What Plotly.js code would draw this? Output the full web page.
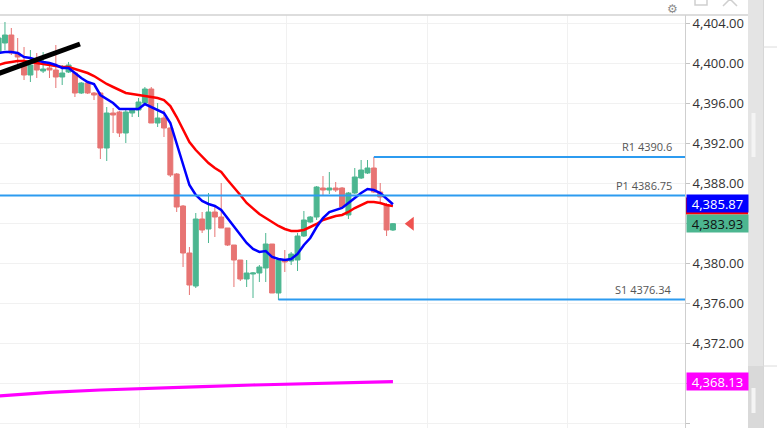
<!DOCTYPE html>
<html><head><meta charset="utf-8">
<script src="https://cdn.plot.ly/plotly-3.0.1.min.js"></script>
<style>html,body{margin:0;padding:0;background:#fff;overflow:hidden}#chart{width:777px;height:428px}</style>
</head><body><div id="chart"></div>
<script>
// ---- data ----
const openP  = [4401.0,4402.0,4402.8,4401.0,4399.8,4398.8,4400.3,4399.2,4399.5,4399.3,4398.6,4399.1,4399.0,4397.0,4398.0,4397.0,4397.0,4391.5,4395.0,4395.1,4393.0,4395.0,4395.3,4396.0,4397.4,4394.0,4394.5,4393.5,4388.9,4385.7,4381.0,4377.7,4384.4,4383.4,4385.1,4384.6,4383.5,4381.8,4380.3,4378.4,4378.9,4379.0,4379.5,4381.9,4377.0,4380.3,4380.2,4380.3,4382.7,4384.1,4384.6,4387.5,4387.3,4387.5,4387.5,4384.8,4387.0,4388.5,4389.0,4389.5,4387.1,4385.8,4383.3];
const highP  = [4403.0,4404.1,4403.5,4402.5,4401.6,4401.3,4401.0,4401.1,4399.7,4401.8,4399.8,4400.1,4399.1,4398.1,4398.1,4397.1,4397.1,4395.6,4395.5,4395.2,4395.3,4395.5,4396.5,4397.6,4397.6,4396.0,4395.3,4393.6,4389.0,4385.8,4381.6,4385.0,4385.1,4387.0,4385.6,4388.0,4383.5,4381.8,4380.3,4380.3,4379.1,4379.8,4383.0,4381.9,4380.3,4381.3,4381.1,4383.0,4385.2,4384.7,4387.7,4388.7,4389.1,4388.1,4387.6,4387.1,4389.5,4390.3,4390.3,4390.6,4388.0,4386.0,4384.0];
const lowP   = [4400.5,4401.3,4400.8,4399.8,4398.3,4398.1,4398.5,4399.0,4398.5,4397.5,4397.8,4399.0,4396.6,4396.9,4396.9,4396.3,4390.4,4390.2,4393.0,4392.6,4392.0,4394.6,4394.6,4395.8,4394.0,4393.6,4392.6,4388.6,4385.1,4379.6,4376.8,4377.5,4383.0,4382.0,4382.6,4383.5,4381.7,4377.6,4378.2,4377.6,4376.5,4378.1,4378.1,4377.0,4376.3,4379.1,4379.8,4379.2,4382.6,4384.0,4384.3,4386.8,4386.9,4387.1,4385.5,4384.4,4386.9,4388.4,4388.9,4387.0,4386.1,4382.7,4383.2];
const closeP = [4402.5,4402.8,4401.0,4400.6,4398.8,4399.8,4399.3,4399.4,4399.3,4398.6,4399.0,4399.8,4397.0,4398.0,4397.0,4396.8,4391.5,4395.0,4394.8,4393.0,4395.1,4395.3,4396.1,4397.4,4394.0,4394.5,4393.5,4388.8,4385.6,4381.0,4377.8,4384.4,4383.3,4385.1,4384.6,4383.5,4381.8,4380.3,4378.4,4379.0,4379.0,4379.6,4381.9,4377.0,4380.3,4380.1,4380.9,4382.7,4384.3,4384.6,4387.6,4387.3,4387.5,4387.3,4385.6,4387.0,4388.6,4389.3,4389.5,4387.1,4386.6,4383.3,4383.93];
const maBlue = [4401.0,4401.1,4401.1,4401.0,4400.6,4400.5,4400.3,4400.1,4400.0,4399.8,4399.5,4399.5,4399.0,4398.5,4398.1,4397.9,4396.8,4396.4,4396.0,4395.4,4395.4,4395.4,4395.4,4395.9,4395.6,4395.3,4395.0,4394.0,4392.0,4390.0,4387.8,4386.8,4386.2,4385.9,4385.7,4385.3,4384.5,4383.7,4382.9,4382.0,4381.4,4381.1,4381.2,4380.6,4380.4,4380.3,4380.4,4380.9,4381.8,4382.5,4383.6,4384.5,4385.1,4385.3,4385.5,4386.0,4386.5,4387.0,4387.4,4387.3,4387.0,4386.4,4385.87];
const maRed  = [4399.8,4400.0,4400.1,4400.2,4400.2,4400.1,4400.0,4399.9,4399.8,4399.7,4399.6,4399.6,4399.4,4399.2,4399.0,4398.7,4398.3,4397.9,4397.6,4397.3,4397.0,4396.9,4396.8,4396.7,4396.6,4396.5,4396.3,4395.7,4394.6,4393.3,4392.1,4391.3,4390.6,4390.0,4389.5,4389.1,4388.3,4387.6,4386.8,4386.0,4385.4,4384.9,4384.5,4384.1,4383.7,4383.4,4383.2,4383.2,4383.3,4383.6,4383.9,4384.3,4384.5,4384.7,4384.8,4385.1,4385.5,4385.8,4386.1,4386.1,4386.0,4385.8,4385.7];
const longMaIdx = [0,8,16,22,32,40,45,52,62];
const longMaVal = [4366.7,4367.07,4367.3,4367.4,4367.63,4367.8,4367.87,4367.97,4368.13];
const trendIdx = [0,12.8];
const trendVal = [4398.95,4401.9];
const pivotNames  = ['R1','P1','S1'];
const pivotValues = [4390.6,4386.75,4376.34];
const pivotStart  = [59,-5,44];
const yTicks = [4364,4368,4372,4376,4380,4384,4388,4392,4396,4400,4404];

// ---- chart ----
const idx = closeP.map((_, i) => i);
const last = closeP.length - 1;
const fmt = v => v.toLocaleString('en-US',{minimumFractionDigits:2,maximumFractionDigits:2});
const W = 685, H = 413, T = 15;
const px = p => p / W;              // x pixel -> paper
const py = p => (T + H - p) / H;    // y pixel -> paper

const traces = [
  {type:'candlestick', x:idx, open:openP, high:highP, low:lowP, close:closeP,
   increasing:{line:{color:'#4cb690',width:1},fillcolor:'#4cb690'},
   decreasing:{line:{color:'#e77473',width:1},fillcolor:'#e77473'},
   whiskerwidth:0, hoverinfo:'skip', showlegend:false},
  {type:'scatter',mode:'lines',x:longMaIdx,y:longMaVal,line:{color:'#ff00ff',width:3.2},hoverinfo:'skip',showlegend:false},
  {type:'scatter',mode:'lines',x:idx,y:maRed,line:{color:'#ff0000',width:2.5},hoverinfo:'skip',showlegend:false},
  {type:'scatter',mode:'lines',x:idx,y:maBlue,line:{color:'#0000ff',width:2.5},hoverinfo:'skip',showlegend:false},
  {type:'scatter',mode:'lines',x:trendIdx,y:trendVal,line:{color:'#000000',width:5},hoverinfo:'skip',showlegend:false},
  {type:'scatter',mode:'markers',x:[last+2.8],y:[closeP[last]],marker:{symbol:'triangle-left',size:12,color:'#ef5350'},hoverinfo:'skip',showlegend:false}
];

const shapes = [];
pivotValues.forEach((v,k)=>{
  shapes.push({type:'line',xref:'x',yref:'y',x0:pivotStart[k],x1:300,y0:v,y1:v,line:{color:'#2c9bf0',width:2},layer:'above'});
});
// red MA price tag, almost fully hidden behind the blue one
shapes.push({type:'rect',xref:'paper',yref:'y',x0:px(686),x1:px(748),y0:maRed[last]-0.85,y1:maRed[last]+0.85,fillcolor:'#ff0000',line:{width:0},layer:'above'});
// frame / toolbar / side panel decorations
shapes.push({type:'line',xref:'paper',yref:'paper',x0:px(0),x1:px(748),y0:1,y1:1,line:{color:'#d2d2d2',width:1.5}});
shapes.push({type:'rect',xref:'paper',yref:'paper',x0:px(748),x1:px(763),y0:0,y1:py(0),fillcolor:'#e4e4e4',line:{width:0}});
shapes.push({type:'rect',xref:'paper',yref:'paper',x0:px(751.5),x1:px(755.5),y0:py(157),y1:py(113),fillcolor:'#f4f4f4',line:{width:0}});
shapes.push({type:'rect',xref:'paper',yref:'paper',x0:px(748),x1:px(763),y0:0,y1:py(366),fillcolor:'#d9d9d9',line:{width:0}});
shapes.push({type:'rect',xref:'paper',yref:'paper',x0:px(751.5),x1:px(755.5),y0:py(413),y1:py(388),fillcolor:'#f4f4f4',line:{width:0}});
shapes.push({type:'line',xref:'paper',yref:'paper',x0:px(763.5),x1:px(763.5),y0:0,y1:py(0),line:{color:'#d6d6d6',width:1}});
shapes.push({type:'line',xref:'paper',yref:'paper',x0:px(763),x1:px(777),y0:py(47),y1:py(47),line:{color:'#dcdcdc',width:1}});
shapes.push({type:'line',xref:'paper',yref:'paper',x0:px(763),x1:px(777),y0:py(366),y1:py(366),line:{color:'#dcdcdc',width:1}});
shapes.push({type:'rect',xref:'paper',yref:'paper',x0:px(695),x1:px(707),y0:py(5),y1:py(-4),line:{color:'#cfcfcf',width:1.5}});
shapes.push({type:'path',xref:'paper',yref:'paper',path:`M ${px(723)},${py(6)} L ${px(730)},${py(-1)} L ${px(737)},${py(6)}`,line:{color:'#cfcfcf',width:1.5}});

const annotations = [];
pivotValues.forEach((v,k)=>{
  annotations.push({xref:'paper',yref:'y',x:px(674),y:v,xanchor:'right',yanchor:'bottom',yshift:1,showarrow:false,
    text:pivotNames[k]+' '+String(v),font:{family:'Open Sans',size:11,color:'#555'}});
});
function priceTag(v,bg,fc){
  return {xref:'paper',yref:'y',x:1,y:v,xanchor:'left',yanchor:'middle',xshift:1,showarrow:false,
    text:fmt(v),bgcolor:bg,width:60,height:16,borderpad:0.5,align:'center',
    font:{family:'Open Sans',size:13,color:fc}};
}
annotations.push(Object.assign(priceTag(maBlue[last],'#0000ff','#ffffff'),{yshift:1}));
annotations.push(priceTag(closeP[last],'#4cb690','#111111'));
annotations.push(priceTag(longMaVal[longMaVal.length-1],'#ff00ff','#ffffff'));
annotations.push({xref:'paper',yref:'paper',x:px(672),y:py(0),xanchor:'center',yanchor:'top',showarrow:false,
  text:'⚙',font:{family:'DejaVu Sans',size:12,color:'#8c8c8c'}});

const layout = {
  width:777,height:428,margin:{l:0,r:92,t:15,b:0,pad:0},
  paper_bgcolor:'#ffffff',plot_bgcolor:'#ffffff',
  boxgap:0,boxgroupgap:0.22,
  xaxis:{range:[0.22,107.92],showticklabels:false,ticks:'',tickvals:[22.1,45.2,67.4,89.4],
    showgrid:true,gridcolor:'#f1f1f1',gridwidth:1,zeroline:false,showline:false,
    rangeslider:{visible:false},fixedrange:true},
  yaxis:{side:'right',range:[4363.5,4404.8],tickvals:yTicks,tickformat:',.2f',
    tickfont:{family:'Open Sans',size:13,color:'#333'},ticks:'outside',ticklen:4,tickcolor:'#c4c4c4',
    showline:true,linecolor:'#cfcfcf',linewidth:1,showgrid:true,gridcolor:'#f1f1f1',zeroline:false,fixedrange:true},
  shapes:shapes,annotations:annotations,showlegend:false,hovermode:false
};
Plotly.newPlot('chart',traces,layout,{displayModeBar:false,staticPlot:true});
</script></body></html>
